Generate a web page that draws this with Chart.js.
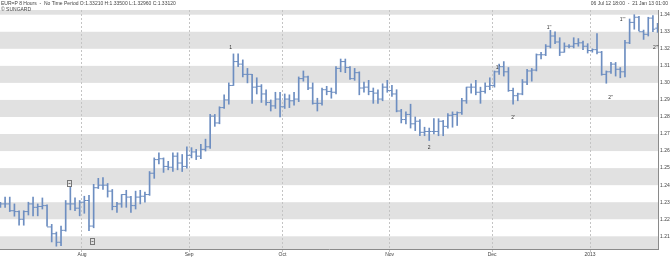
<!DOCTYPE html>
<html>
<head>
<meta charset="utf-8">
<script src="https://cdn.jsdelivr.net/npm/chart.js@4.4.1/dist/chart.umd.min.js"></script>
<style>
  html, body { margin: 0; padding: 0; background: #fff; }
  #wrap { width: 670px; height: 259px; position: relative; }
</style>
</head>
<body>
<div id="wrap"><canvas id="c" width="670" height="259"></canvas></div>
<script>
/* ---------- dados (barras diárias) ---------- */
const days = [
  '06 Jul','09 Jul','10 Jul','11 Jul','12 Jul','13 Jul','16 Jul','17 Jul','18 Jul','19 Jul',
  '20 Jul','23 Jul','24 Jul','25 Jul','26 Jul','27 Jul','30 Jul','31 Jul','01 Aug','02 Aug',
  '03 Aug','06 Aug','07 Aug','08 Aug','09 Aug','10 Aug','13 Aug','14 Aug','15 Aug','16 Aug',
  '17 Aug','20 Aug','21 Aug','22 Aug','23 Aug','24 Aug','27 Aug','28 Aug','29 Aug','30 Aug',
  '31 Aug','03 Sep','04 Sep','05 Sep','06 Sep','07 Sep','10 Sep','11 Sep','12 Sep','13 Sep',
  '14 Sep','17 Sep','18 Sep','19 Sep','20 Sep','21 Sep','24 Sep','25 Sep','26 Sep','27 Sep',
  '28 Sep','01 Oct','02 Oct','03 Oct','04 Oct','05 Oct','08 Oct','09 Oct','10 Oct','11 Oct',
  '12 Oct','15 Oct','16 Oct','17 Oct','18 Oct','19 Oct','22 Oct','23 Oct','24 Oct','25 Oct',
  '26 Oct','29 Oct','30 Oct','31 Oct','01 Nov','02 Nov','05 Nov','06 Nov','07 Nov','08 Nov',
  '09 Nov','12 Nov','13 Nov','14 Nov','15 Nov','16 Nov','19 Nov','20 Nov','21 Nov','22 Nov',
  '23 Nov','26 Nov','27 Nov','28 Nov','29 Nov','30 Nov','03 Dec','04 Dec','05 Dec','06 Dec',
  '07 Dec','10 Dec','11 Dec','12 Dec','13 Dec','14 Dec','17 Dec','18 Dec','19 Dec','20 Dec',
  '21 Dec','24 Dec','25 Dec','26 Dec','27 Dec','28 Dec','31 Dec','01 Jan','02 Jan','03 Jan',
  '04 Jan','07 Jan','08 Jan','09 Jan','10 Jan','11 Jan','14 Jan','15 Jan','16 Jan','17 Jan',
  '18 Jan','21 Jan'
];
const opens = [
  1.2295,1.2290,1.2290,1.2250,1.2245,1.2200,1.2245,1.2290,1.2270,1.2275,
  1.2280,1.2155,1.2115,1.2065,1.2135,1.2290,1.2290,1.2265,1.2300,1.2310,
  1.2160,1.2385,1.2400,1.2400,1.2365,1.2275,1.2290,1.2345,1.2330,1.2280,
  1.2330,1.2335,1.2345,1.2470,1.2550,1.2555,1.2510,1.2505,1.2570,1.2530,
  1.2510,1.2575,1.2595,1.2570,1.2610,1.2625,1.2805,1.2765,1.2855,1.2900,
  1.2985,1.3125,1.3110,1.3050,1.3050,1.2975,1.2980,1.2935,1.2885,1.2865,
  1.2905,1.2860,1.2905,1.2895,1.2905,1.3025,1.3035,1.2970,1.2880,1.2880,
  1.2960,1.2950,1.2945,1.3085,1.3125,1.3090,1.3025,1.3060,1.2970,1.2975,
  1.2950,1.2940,1.2905,1.2975,1.2955,1.2935,1.2835,1.2785,1.2815,1.2760,
  1.2775,1.2710,1.2715,1.2715,1.2715,1.2775,1.2745,1.2810,1.2815,1.2825,
  1.2895,1.2975,1.2975,1.2945,1.2950,1.2980,1.2985,1.3065,1.3095,1.3065,
  1.2955,1.2925,1.2935,1.3005,1.3070,1.3075,1.3165,1.3165,1.3215,1.3275,
  1.3240,1.3180,1.3215,1.3215,1.3230,1.3235,1.3215,1.3190,1.3195,1.3180,
  1.3050,1.3065,1.3110,1.3080,1.3065,1.3235,1.3355,1.3385,1.3300,1.3285,
  1.3380,1.3321
];
const highs = [
  1.2300,1.2330,1.2330,1.2290,1.2250,1.2250,1.2300,1.2330,1.2290,1.2325,
  1.2285,1.2170,1.2125,1.2160,1.2310,1.2390,1.2325,1.2310,1.2335,1.2340,
  1.2405,1.2440,1.2445,1.2410,1.2375,1.2300,1.2345,1.2370,1.2335,1.2365,
  1.2370,1.2360,1.2480,1.2560,1.2590,1.2560,1.2540,1.2590,1.2590,1.2580,
  1.2625,1.2620,1.2610,1.2640,1.2670,1.2815,1.2815,1.2860,1.2930,1.3000,
  1.3170,1.3170,1.3135,1.3085,1.3050,1.3030,1.2990,1.2960,1.2900,1.2945,
  1.2945,1.2935,1.2930,1.2945,1.3035,1.3070,1.3040,1.3000,1.2910,1.2970,
  1.2980,1.2970,1.3095,1.3140,1.3140,1.3095,1.3085,1.3065,1.3005,1.3015,
  1.2970,1.2960,1.2995,1.3015,1.2985,1.2960,1.2845,1.2830,1.2875,1.2800,
  1.2785,1.2740,1.2735,1.2790,1.2790,1.2780,1.2820,1.2830,1.2830,1.2910,
  1.2975,1.2995,1.3015,1.2975,1.3000,1.3030,1.3070,1.3110,1.3125,1.3090,
  1.2970,1.2940,1.3020,1.3080,1.3085,1.3170,1.3180,1.3225,1.3308,1.3300,
  1.3265,1.3235,1.3225,1.3265,1.3260,1.3245,1.3230,1.3200,1.3290,1.3185,
  1.3070,1.3120,1.3120,1.3090,1.3250,1.3375,1.3400,1.3390,1.3310,1.3385,
  1.3395,1.3350
];
const lows = [
  1.2270,1.2270,1.2245,1.2218,1.2165,1.2165,1.2225,1.2220,1.2220,1.2260,
  1.2160,1.2067,1.2042,1.2045,1.2130,1.2255,1.2250,1.2220,1.2235,1.2133,
  1.2150,1.2380,1.2375,1.2330,1.2255,1.2240,1.2270,1.2270,1.2240,1.2260,
  1.2290,1.2300,1.2340,1.2440,1.2525,1.2475,1.2490,1.2480,1.2490,1.2480,
  1.2500,1.2560,1.2550,1.2555,1.2600,1.2615,1.2745,1.2760,1.2850,1.2875,
  1.2985,1.3095,1.3035,1.3000,1.2880,1.2935,1.2885,1.2870,1.2835,1.2850,
  1.2800,1.2850,1.2855,1.2870,1.2890,1.3010,1.2960,1.2875,1.2835,1.2870,
  1.2930,1.2910,1.2935,1.3065,1.3060,1.3020,1.3015,1.2930,1.2945,1.2930,
  1.2880,1.2880,1.2895,1.2945,1.2920,1.2830,1.2765,1.2760,1.2735,1.2720,
  1.2690,1.2690,1.2662,1.2700,1.2690,1.2690,1.2735,1.2740,1.2750,1.2815,
  1.2880,1.2940,1.2930,1.2880,1.2940,1.2960,1.2975,1.3050,1.3040,1.2950,
  1.2875,1.2895,1.2930,1.2990,1.3010,1.3070,1.3140,1.3160,1.3205,1.3230,
  1.3160,1.3180,1.3205,1.3205,1.3215,1.3195,1.3175,1.3180,1.3170,1.3045,
  1.2998,1.3055,1.3040,1.3030,1.3035,1.3230,1.3315,1.3305,1.3255,1.3275,
  1.3300,1.3296
];
const closes = [
  1.2290,1.2290,1.2250,1.2245,1.2200,1.2245,1.2290,1.2270,1.2275,1.2280,
  1.2155,1.2115,1.2065,1.2135,1.2290,1.2290,1.2265,1.2300,1.2310,1.2160,
  1.2385,1.2400,1.2400,1.2365,1.2275,1.2290,1.2345,1.2330,1.2280,1.2330,
  1.2335,1.2345,1.2470,1.2550,1.2555,1.2510,1.2505,1.2570,1.2530,1.2510,
  1.2575,1.2595,1.2570,1.2610,1.2625,1.2805,1.2765,1.2855,1.2900,1.2985,
  1.3125,1.3110,1.3050,1.3050,1.2975,1.2980,1.2935,1.2885,1.2865,1.2905,
  1.2860,1.2905,1.2895,1.2905,1.3025,1.3035,1.2970,1.2880,1.2880,1.2960,
  1.2950,1.2945,1.3085,1.3125,1.3090,1.3025,1.3060,1.2970,1.2975,1.2950,
  1.2940,1.2905,1.2975,1.2955,1.2935,1.2835,1.2785,1.2815,1.2760,1.2775,
  1.2710,1.2715,1.2715,1.2715,1.2775,1.2745,1.2810,1.2815,1.2825,1.2895,
  1.2975,1.2975,1.2945,1.2950,1.2980,1.2985,1.3065,1.3095,1.3065,1.2955,
  1.2925,1.2935,1.3005,1.3070,1.3075,1.3165,1.3165,1.3215,1.3275,1.3240,
  1.3180,1.3215,1.3215,1.3230,1.3235,1.3215,1.3190,1.3195,1.3180,1.3050,
  1.3065,1.3110,1.3080,1.3065,1.3235,1.3355,1.3385,1.3300,1.3285,1.3380,
  1.3315,1.3312
];

/* eixo x: posição (em dias de pregão) das viradas de mês */
const monthTicks  = [17.5, 40.5, 60.5, 83.5, 105.5, 126.5];
const monthLabels = ['Aug', 'Sep', 'Oct', 'Nov', 'Dec', '2013'];
const priceTicks  = [1.21, 1.22, 1.23, 1.24, 1.25, 1.26, 1.27, 1.28, 1.29, 1.30, 1.31, 1.32, 1.33, 1.34];

/* contagem de ondas */
const waveText = ['1', "1'", '2', "2'", "1''", "2''", "1'''", "2'''"];
const waveX    = [49.4, 106.7, 92.0, 110.0, 117.7, 130.9, 133.5, 140.6];
const waveY    = [1.3205, 1.3087, 1.2620, 1.2794, 1.3322, 1.2911, 1.3369, 1.3205];

/* marcadores de evento */
const eventX = [14.7, 19.6];
const eventY = [1.2413, 1.2071];

const HEADER_L1 = 'EUR=P 8 Hours  -  No Time Period O:1.33210 H:1.33500 L:1.32960 C:1.33120';
const HEADER_L2 = '\u00A9 SUNGARD';
const HEADER_R  = '06 Jul 12 18:00  -  21 Jan 13 01:00';

/* ---------- estilo ---------- */
const BAR_CO  = '#6d8ec1';
const BAND_CO = '#e1e1e1';
const AXIS_CO = '#8a8a8a';
const TXT_CO  = '#444';
const FONT    = 'Liberation Sans';

/* faixas cinza alternadas + textos */
const decor = {
  id: 'decor',
  beforeDraw(chart) {
    const { ctx, chartArea: a, scales: { y } } = chart;
    ctx.save();
    ctx.beginPath();
    ctx.rect(a.left, a.top, a.right - a.left, a.bottom - a.top);
    ctx.clip();
    ctx.fillStyle = BAND_CO;
    for (let v = 1.20; v < 1.36; v += 0.02) {
      const top = y.getPixelForValue(v + 0.01);
      const bot = y.getPixelForValue(v);
      ctx.fillRect(a.left, top, a.right - a.left, bot - top);
    }
    ctx.restore();
  },
  afterDatasetsDraw(chart) {
    const { ctx, scales: { x, y } } = chart;
    ctx.save();
    ctx.fillStyle = '#333';
    ctx.font = `5px "${FONT}"`;
    ctx.textAlign = 'center';
    ctx.textBaseline = 'middle';
    waveText.forEach((t, i) => {
      ctx.fillText(t, x.getPixelForValue(waveX[i]), y.getPixelForValue(waveY[i]));
    });
    ctx.strokeStyle = '#777';
    ctx.lineWidth = 1;
    eventX.forEach((ex, i) => {
      const px = Math.round(x.getPixelForValue(ex)) + 0.5;
      const py = Math.round(y.getPixelForValue(eventY[i])) + 0.5;
      ctx.strokeRect(px - 2, py - 3, 4, 6);
      ctx.beginPath();
      ctx.moveTo(px - 1, py); ctx.lineTo(px + 1, py);
      ctx.stroke();
    });
    ctx.restore();
  },
  afterDraw(chart) {
    const { ctx } = chart;
    ctx.save();
    ctx.fillStyle = TXT_CO;
    ctx.font = `5px "${FONT}"`;
    ctx.textBaseline = 'alphabetic';
    ctx.textAlign = 'left';
    ctx.fillText(HEADER_L1, 1, 5);
    ctx.fillText(HEADER_L2, 1, 11);
    ctx.textAlign = 'right';
    ctx.fillText(HEADER_R, 668, 5);
    ctx.restore();
  }
};

const barData   = days.map((d, i) => ({ x: i, y: [lows[i], highs[i]] }));
const openData  = days.map((d, i) => ({ x: i - 0.25, y: opens[i] }));
const closeData = days.map((d, i) => ({ x: i + 0.25, y: closes[i] }));

new Chart(document.getElementById('c').getContext('2d'), {
  type: 'bar',
  data: {
    datasets: [
      {
        label: 'H-L',
        data: barData,
        backgroundColor: BAR_CO,
        barThickness: 1,
        borderWidth: 0
      },
      {
        type: 'scatter',
        label: 'Open',
        data: openData,
        pointStyle: 'line',
        pointRadius: 1.2,
        borderColor: BAR_CO,
        borderWidth: 1
      },
      {
        type: 'scatter',
        label: 'Close',
        data: closeData,
        pointStyle: 'line',
        pointRadius: 1.2,
        borderColor: BAR_CO,
        borderWidth: 1
      }
    ]
  },
  options: {
    responsive: false,
    animation: false,
    events: [],
    layout: { autoPadding: false, padding: { top: 10, left: 0, right: 0, bottom: 0 } },
    plugins: { legend: { display: false }, tooltip: { enabled: false } },
    scales: {
      x: {
        type: 'linear',
        offset: false,
        min: -0.094,
        max: 141.09,
        afterBuildTicks: s => { s.ticks = monthTicks.map(v => ({ value: v })); },
        afterFit: s => { s.height = 10; },
        ticks: {
          autoSkip: false,
          maxRotation: 0,
          padding: 0,
          color: TXT_CO,
          font: { family: FONT, size: 5 },
          callback: (v) => {
            const k = monthTicks.indexOf(v);
            return k >= 0 ? monthLabels[k] : '';
          }
        },
        grid: { offset: false, color: '#c4c4c4', lineWidth: 1, tickLength: 3, drawTicks: true },
        border: { display: true, color: AXIS_CO, width: 1, dash: [2, 2] }
      },
      y: {
        type: 'linear',
        position: 'right',
        min: 1.20255,
        max: 1.34276,
        afterBuildTicks: s => { s.ticks = priceTicks.map(v => ({ value: v })); },
        afterFit: s => { s.width = 12; },
        ticks: {
          padding: 2,
          color: TXT_CO,
          font: { family: FONT, size: 5 },
          callback: v => v.toFixed(2)
        },
        grid: { display: false, drawTicks: false },
        border: { display: true, color: AXIS_CO, width: 1 }
      }
    }
  },
  plugins: [decor]
});
</script>
</body>
</html>
